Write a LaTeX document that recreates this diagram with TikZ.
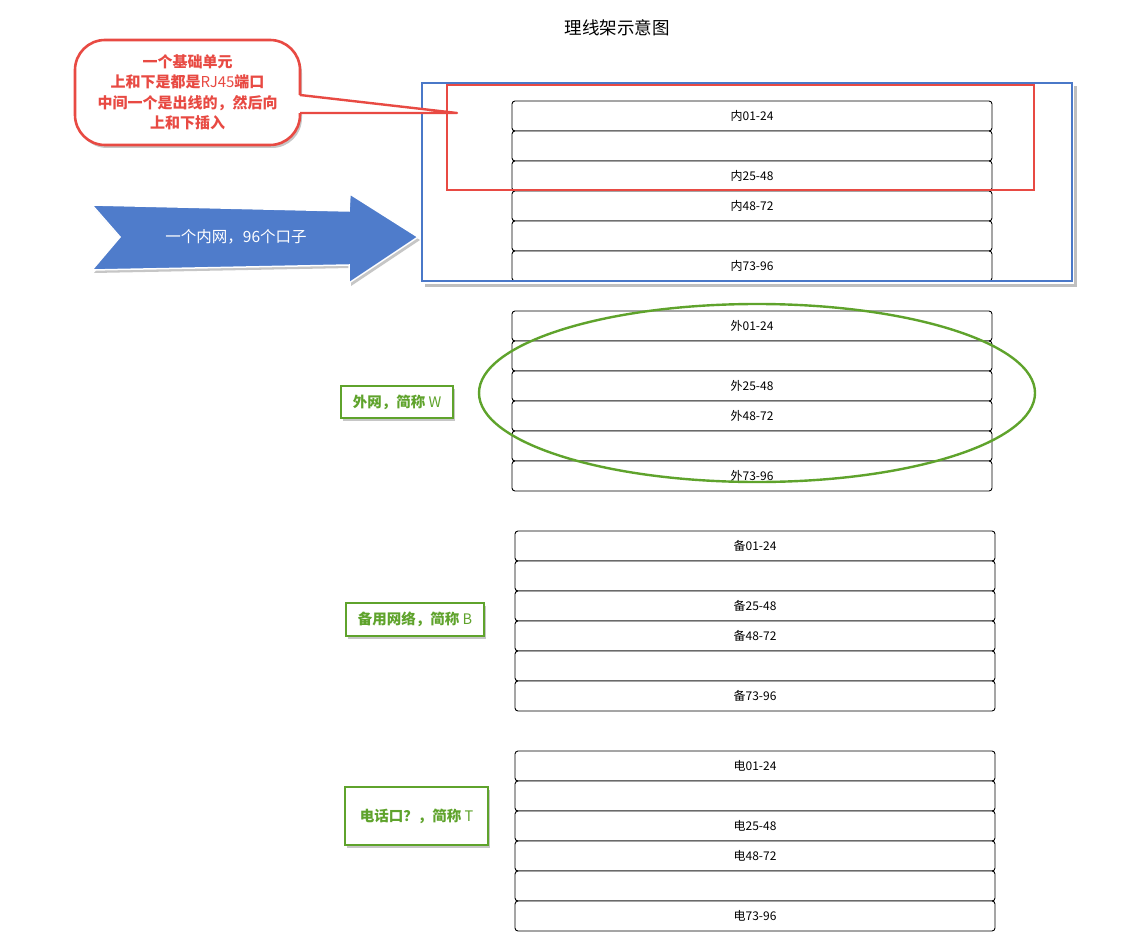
\documentclass[tikz,border=0pt]{standalone}
\usepackage{fontspec}
\setmainfont{Noto Sans CJK SC}
\usetikzlibrary{shadows}

\definecolor{netblue}{HTML}{4A78C8}
\definecolor{arrowblue}{HTML}{4F7CCB}
\definecolor{notered}{HTML}{E84A43}
\definecolor{tagreen}{HTML}{5FA32C}

\tikzset{
  slot/.style={draw, line width=0.9pt, fill=white, rounded corners=3pt, minimum width=480pt,
    minimum height=30pt, inner sep=0pt, font=\fontsize{12}{13}\selectfont},
  tagbox/.style={draw=tagreen, line width=2.6pt, fill=white, text=tagreen,
    inner sep=0pt, font=\fontsize{14.5}{16}\selectfont,
    drop shadow={shadow xshift=2pt, shadow yshift=-3pt, fill=black!50, opacity=.45}},
  shade/.style={drop shadow={shadow xshift=2pt, shadow yshift=-3pt, fill=black!50, opacity=.45}}
}

\begin{document}
\begin{tikzpicture}[x=1pt, y=-1pt]
            \useasboundingbox (0,0) rectangle (1147,933);

            \node[font=\fontsize{17.5}{20}\selectfont] (title) at (617,28) {理线架示意图};

            % four racks, six slots each
            \foreach \grp/\cx/\cy/\pre in {in/752/116/内, out/752/326/外, bak/755/546/备, tel/755/766/电} {
              \foreach \r/\t in {0/{\pre01-24},1/{},2/{\pre25-48},3/{\pre48-72},4/{},5/{\pre73-96}} {
                \node[slot] (\grp\r) at (\cx,\cy+30*\r) {\t};
              }
            }

            % one unit and the whole inner net
            \draw[notered, line width=2.4pt] (447,85) rectangle (1034,190);
            \draw[black!25, line width=3pt] (425,285)--(1075,285)--(1075,86);
            \draw[netblue, line width=2.8pt] (422,83) rectangle (1072,281);

            % callout
            \node[draw=notered, line width=2.6pt, fill=white, rounded corners=30pt,
                  minimum width=225pt, minimum height=105pt, align=center,
                  text=notered, font=\fontsize{15}{20.5}\selectfont\bfseries, shade]
                  (note) at (187.5,92.5)
                  {一个基础单元\\上和下是都是{\mdseries RJ45}端口\\中间一个是出线的，然后向\\上和下插入};
            \coordinate (tip) at (457,113);
            \fill[white] (297,95)--(tip)--(297,113)--cycle;
            \draw[notered, line width=2.4pt, line join=round] (300,95)--(tip)--(300,113);

            % big arrow
            \draw[white, line width=1.5pt, fill=arrowblue, shade]
                 (92,205)--(349,211)--(350,194)--(418,237)--(349,283)--(349,265)--(92,270)--(120,237)--cycle;
            \node[text=white, font=\fontsize{15.5}{17}\selectfont] (net) at (236,237) {一个内网，96个口子};

            % outer net ring
            \draw[tagreen, line width=2.4pt] (757,393) ellipse [x radius=278pt, y radius=89pt];

            \node[tagbox, minimum width=112pt, minimum height=32pt] (wtag) at (397,402)
                 {{\bfseries 外网，简称} W};
            \node[tagbox, minimum width=138pt, minimum height=33pt] (btag) at (415,619.5)
                 {{\bfseries 备用网络，简称} B};
            \node[tagbox, minimum width=143pt, minimum height=58pt] (ttag) at (416.5,816)
                 {{\bfseries 电话口？，简称} T};
        \end{tikzpicture}
\end{document}
